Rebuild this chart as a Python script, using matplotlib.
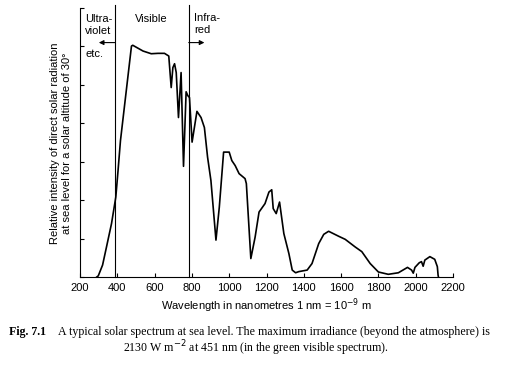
import matplotlib
matplotlib.use('Agg')
import matplotlib.pyplot as plt

# wavelength (nm) and relative intensity
wavelength = [290, 298, 321, 342, 369, 392, 404, 417, 476, 483, 538, 582, 618, 653,
              676, 689, 698, 707, 716, 728, 742, 755, 769, 778, 787, 801, 827, 849,
              867, 884, 902, 929, 947, 970, 1000, 1014, 1032, 1053, 1085, 1092, 1116,
              1139, 1160, 1192, 1213, 1228, 1236, 1252, 1270, 1293, 1320, 1338, 1356,
              1373, 1418, 1444, 1480, 1507, 1533, 1587, 1622, 1676, 1711, 1756, 1800,
              1853, 1907, 1956, 1978, 1987, 1996, 2019, 2031, 2040, 2049, 2076, 2102,
              2116, 2120, 2122]
intensity = [0.0, 0.03, 0.31, 0.78, 1.39, 2.08, 2.77, 3.55, 6.01, 6.03, 5.88, 5.81, 5.82, 5.82,
             5.75, 4.93, 5.45, 5.55, 5.32, 4.15, 5.32, 2.88, 4.82, 4.72, 4.67, 3.51, 4.31, 4.15,
             3.89, 3.12, 2.51, 0.96, 1.82, 3.25, 3.25, 3.03, 2.90, 2.69, 2.56, 2.43, 0.48,
             1.04, 1.69, 1.91, 2.21, 2.27, 1.78, 1.65, 1.95, 1.13, 0.61, 0.18, 0.11,
             0.14, 0.18, 0.35, 0.87, 1.11, 1.19, 1.06, 0.98, 0.78, 0.66, 0.35, 0.13,
             0.07, 0.11, 0.25, 0.18, 0.10, 0.25, 0.37, 0.40, 0.28, 0.44, 0.53, 0.46,
             0.27, 0.05, 0.0]

xticks = [200, 400, 600, 800, 1000, 1200, 1400, 1600, 1800, 2000, 2200]
uv_edge = 390
ir_edge = 783

plt.rcParams['font.family'] = ['Liberation Sans', 'DejaVu Sans']

fig = plt.figure(figsize=(5.16, 3.67), dpi=100)
ax = fig.add_axes([80 / 516, 1 - 277 / 367, 373 / 516, 269 / 367])

ax.plot(wavelength, intensity, color='k', lw=1.2, solid_joinstyle='round')
ax.set_xlim(200, 2200)
ax.set_ylim(0, 7)

for x in (uv_edge, ir_edge):
    ax.plot([x, x], [0, 7.08], color='k', lw=0.8, clip_on=False)

ax.spines['top'].set_visible(False)
ax.spines['right'].set_visible(False)
ax.spines['left'].set_linewidth(0.8)
ax.spines['bottom'].set_linewidth(0.8)
ax.set_xticks(xticks)
ax.set_yticks(range(8))
ax.set_yticklabels([])
ax.tick_params(direction='in', length=3, width=0.8, labelsize=8, pad=4)

ax.text(227, 6.55, 'Ultra-\nviolet', fontsize=8, ha='left', va='center', linespacing=1.3)
ax.text(227, 5.80, 'etc.', fontsize=8, ha='left', va='center')
ax.text(582, 6.72, 'Visible', fontsize=8, ha='center', va='center')
ax.text(813, 6.58, 'Infra-\nred', fontsize=8, ha='left', va='center', linespacing=1.3)
ax.annotate('', xy=(301, 6.10), xytext=(uv_edge, 6.10),
            arrowprops=dict(arrowstyle='-|>', lw=0.8, color='k', mutation_scale=7,
                            shrinkA=0, shrinkB=0))
ax.annotate('', xy=(867, 6.10), xytext=(ir_edge, 6.10),
            arrowprops=dict(arrowstyle='-|>', lw=0.8, color='k', mutation_scale=7,
                            shrinkA=0, shrinkB=0))

ax.set_xlabel('Wavelength in nanometres 1 nm = 10$^{-9}$ m', fontsize=8, labelpad=3)
fig.text(61.5 / 516, 1 - 143 / 367,
         'Relative intensity of direct solar radiation\nat sea level for a solar altitude of 30°',
         rotation=90, ha='center', va='center', fontsize=8, linespacing=1.25)

serif = ['Liberation Serif', 'DejaVu Serif']
fig.text(9 / 516, 1 - 331.5 / 367, 'Fig. 7.1', fontsize=8.6, fontweight='bold',
         family=serif, ha='left', va='center')
fig.text(58 / 516, 1 - 331.5 / 367,
         'A typical solar spectrum at sea level. The maximum irradiance (beyond the atmosphere) is',
         fontsize=8.6, family=serif, ha='left', va='center')
fig.text(256 / 516, 1 - 348 / 367,
         '2130 W m$^{-2}$ at 451 nm (in the green visible spectrum).',
         fontsize=8.6, family=serif, ha='center', va='center')

fig.savefig('out.png', dpi=100)
